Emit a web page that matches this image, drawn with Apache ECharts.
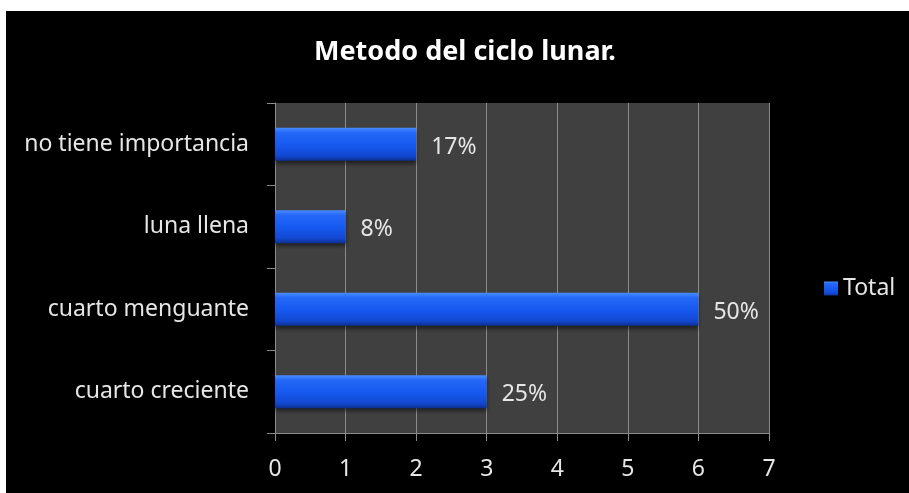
<!DOCTYPE html>
<html>
<head>
<meta charset="utf-8">
<script src="https://cdn.jsdelivr.net/npm/echarts@6/dist/echarts.min.js"></script>
<style>
  body { margin: 0; background: #fff; }
  #chart { position: absolute; left: 6px; top: 11px; width: 903px; height: 482px; background: #000; }
</style>
</head>
<body>
<div id="chart"></div>
<script>
var categories = ['cuarto creciente', 'cuarto menguante', 'luna llena', 'no tiene importancia']
var totals = [3, 6, 1, 2]
var percents = ['25%', '50%', '8%', '17%']
var xTicks = [0, 1, 2, 3, 4, 5, 6, 7]

var font = 'Noto Sans'
var myChart = echarts.init(document.getElementById('chart'))

var option = {
  backgroundColor: '#000',
  title: {
    text: 'Metodo del ciclo lunar.',
    left: 303,
    top: 23,
    textStyle: { color: '#fff', fontFamily: font, fontWeight: 'bold', fontSize: 27 }
  },
  legend: {
    data: ['Total'],
    left: 813,
    top: 261,
    itemWidth: 14,
    itemHeight: 14,
    itemGap: 6,
    icon: 'rect',
    textStyle: { color: '#e6e6e6', fontFamily: font, fontSize: 23 }
  },
  grid: {
    left: 269,
    top: 92,
    width: 494,
    height: 330,
    show: true,
    backgroundColor: '#404040',
    borderWidth: 0
  },
  xAxis: {
    type: 'value',
    min: xTicks[0],
    max: xTicks[xTicks.length - 1],
    interval: 1,
    axisLine: { show: true, lineStyle: { color: '#8c8c8c' } },
    axisTick: { show: true, length: 8, lineStyle: { color: '#8c8c8c' } },
    splitLine: { show: true, lineStyle: { color: '#8c8c8c', width: 1 } },
    axisLabel: { color: '#e6e6e6', fontFamily: font, fontSize: 23, margin: 25 }
  },
  yAxis: {
    type: 'category',
    data: categories,
    axisLine: { show: true, lineStyle: { color: '#8c8c8c' } },
    axisTick: { show: true, length: 8, lineStyle: { color: '#8c8c8c' } },
    axisLabel: { color: '#e6e6e6', fontFamily: font, fontSize: 23, margin: 26, padding: [6, 0, 0, 0] }
  },
  series: [{
    name: 'Total',
    type: 'bar',
    data: totals,
    barWidth: '40%',
    itemStyle: {
      color: new echarts.graphic.LinearGradient(0, 0, 0, 1, [
        { offset: 0, color: '#4a8dff' },
        { offset: 0.15, color: '#2468f8' },
        { offset: 0.55, color: '#1658ee' },
        { offset: 0.85, color: '#1248d0' },
        { offset: 1, color: '#0c3090' }
      ]),
      shadowColor: 'rgba(0,0,0,0.5)',
      shadowBlur: 4,
      shadowOffsetY: 3
    },
    label: {
      show: true,
      position: 'right',
      distance: 15,
      offset: [0, 3],
      color: '#e6e6e6',
      fontFamily: font,
      fontSize: 23,
      formatter: function (p) { return percents[p.dataIndex] }
    }
  }]
}
myChart.setOption(option)
</script>
</body>
</html>
